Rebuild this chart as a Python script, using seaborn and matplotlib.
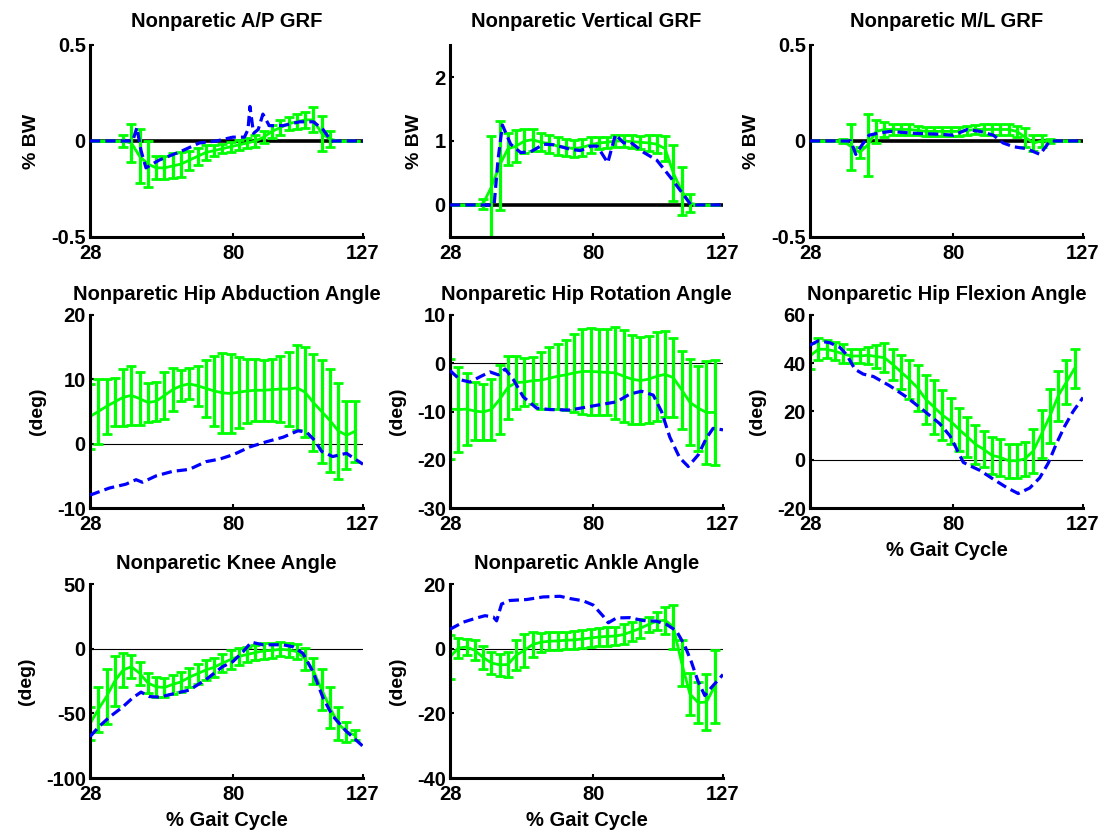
import matplotlib
matplotlib.use('Agg')
import matplotlib.pyplot as plt
import seaborn as sns

# green error bars sit every 3 % of the gait cycle
gait_x = list(range(28, 125, 3))

# ---- Nonparetic A/P GRF
ap_mean = [0, 0, 0, 0, 0.0, -0.01, -0.08, -0.12, -0.14, -0.14, -0.13, -0.12, -0.10, -0.08, -0.06, -0.05,
           -0.04, -0.03, -0.02, -0.01, 0.0, 0.02, 0.05, 0.07, 0.09, 0.10, 0.11, 0.11, 0.04, 0.01, 0, 0, 0]
ap_err = [0, 0, 0, 0, 0.03, 0.10, 0.14, 0.12, 0.06, 0.06, 0.065, 0.065, 0.05, 0.045, 0.04, 0.03,
          0.025, 0.025, 0.025, 0.025, 0.03, 0.03, 0.035, 0.04, 0.035, 0.04, 0.04, 0.065, 0.09, 0.04, 0, 0, 0]
ap_blue_x = [28, 43.5, 45, 46.5, 48.3, 53, 61.6, 67.7, 73.8, 79.8, 84, 85.3, 86, 87.3, 89, 90.7, 93, 98,
             104, 109, 112.5, 115.5, 127]
ap_blue_y = [0, 0, 0.07, -0.05, -0.14, -0.10, -0.05, -0.01, 0.0, 0.02, 0.02, 0.06, 0.18, 0.04, 0.06, 0.14,
             0.08, 0.08, 0.10, 0.10, 0.06, 0.0, 0]

# ---- Nonparetic Vertical GRF
vert_mean = [0, 0, 0, 0, 0.02, 0.28, 0.62, 0.88, 0.92, 1.0, 1.02, 0.98, 0.96, 0.92, 0.90, 0.88, 0.90,
             0.94, 0.97, 0.98, 1.0, 1.0, 0.99, 0.98, 0.97, 0.95, 0.88, 0.50, 0.22, 0.03, 0, 0, 0]
vert_err = [0, 0, 0, 0, 0.08, 0.80, 0.70, 0.25, 0.25, 0.18, 0.17, 0.14, 0.14, 0.14, 0.13, 0.13, 0.13,
            0.12, 0.10, 0.09, 0.10, 0.09, 0.10, 0.10, 0.12, 0.14, 0.20, 0.44, 0.38, 0.14, 0, 0, 0]
vert_blue_x = [28, 44, 45.4, 47, 50, 53.6, 57.2, 62, 65.7, 71.7, 75.3, 79, 81.4, 85.2, 88, 91, 93.5,
               98.3, 103, 108, 112, 115.4, 127]
vert_blue_y = [0, 0, 0.7, 1.25, 0.95, 0.82, 0.83, 0.95, 0.94, 0.87, 0.85, 0.92, 0.92, 0.66, 1.10, 0.97,
               0.98, 0.82, 0.70, 0.43, 0.20, 0.0, 0]

# ---- Nonparetic M/L GRF
ml_mean = [0, 0, 0, 0, 0.0, -0.03, -0.06, -0.02, 0.05, 0.06, 0.06, 0.06, 0.06, 0.055, 0.05, 0.05, 0.05,
           0.05, 0.05, 0.055, 0.06, 0.06, 0.06, 0.06, 0.06, 0.05, 0.02, -0.01, 0.0, 0.0, 0, 0, 0]
ml_err = [0, 0, 0, 0, 0.01, 0.12, 0.03, 0.16, 0.06, 0.04, 0.03, 0.03, 0.03, 0.025, 0.025, 0.025, 0.025,
          0.025, 0.025, 0.025, 0.025, 0.03, 0.03, 0.03, 0.03, 0.03, 0.05, 0.04, 0.03, 0.01, 0, 0, 0]
ml_blue_x = [28, 42.8, 44.6, 46.4, 49.4, 52.4, 57.2, 65.7, 75.3, 80, 85, 89.7, 94.5, 98, 101.8, 106.6,
             111.4, 115, 127]
ml_blue_y = [0, 0, -0.07, -0.03, 0.03, 0.04, 0.05, 0.04, 0.035, 0.03, 0.06, 0.05, 0.03, -0.01, -0.03,
             -0.04, -0.07, 0.0, 0]

# ---- Nonparetic Hip Abduction Angle
abd_mean = [4.2, 5.0, 5.8, 6.5, 7.2, 7.5, 7.0, 6.4, 6.6, 7.5, 8.4, 9.0, 9.3, 9.0, 8.6, 8.2, 7.9, 7.8,
            8.0, 8.2, 8.3, 8.3, 8.4, 8.5, 8.5, 8.7, 8.0, 6.4, 5.0, 3.6, 2.0, 1.3, 1.9]
abd_err = [5.1, 5.0, 4.3, 3.7, 4.4, 4.6, 4.1, 3.0, 3.0, 3.6, 3.3, 2.4, 2.4, 3.1, 4.4, 5.5, 6.2, 6.1,
           5.5, 5.0, 4.8, 4.7, 4.8, 5.1, 5.7, 6.6, 7.0, 7.5, 8.0, 8.0, 7.5, 5.3, 4.8]
abd_blue_x = [28, 35, 41, 44.7, 47, 52, 58, 64, 70, 75, 80, 86, 92, 98, 103.4, 106.5, 109.5, 112, 116,
              121, 127]
abd_blue_y = [-8.0, -6.9, -6.3, -5.6, -6.0, -5.0, -4.3, -4.0, -2.8, -2.4, -1.7, -0.5, 0.3, 1.0, 2.0,
              1.8, 0.5, -1.2, -2.0, -1.5, -3.2]

# ---- Nonparetic Hip Rotation Angle
rot_mean = [-9.5, -9.6, -9.5, -9.9, -10.1, -9.6, -7.5, -5.0, -4.0, -3.9, -3.6, -3.5, -3.1, -2.7, -2.4,
            -2.0, -1.7, -1.7, -1.8, -1.9, -2.0, -2.7, -3.3, -3.6, -3.3, -2.7, -2.3, -3.0, -5.5, -8.1,
            -9.3, -10.2, -10.2]
rot_err = [10.3, 8.8, 7.5, 6.1, 5.9, 6.4, 7.2, 6.5, 5.4, 5.0, 4.9, 5.9, 6.4, 6.7, 7.3, 8.1, 8.9, 9.1,
           9.0, 8.9, 9.5, 9.5, 9.2, 9.0, 9.0, 9.2, 8.9, 8.2, 8.1, 8.9, 8.8, 10.6, 10.9]
rot_blue_x = [28, 31.6, 35.2, 38.9, 42.5, 45.5, 48, 51, 54.6, 59.4, 64.2, 71.5, 76.3, 82.3, 88.4, 93.2,
              97.4, 101.7, 104.7, 107.7, 111.3, 114.4, 118, 121, 123.4, 127]
rot_blue_y = [-1.5, -3.4, -3.9, -2.8, -1.8, -2.4, -1.2, -3.4, -7.0, -9.3, -9.6, -9.7, -9.2, -8.6, -8.0,
              -6.4, -5.8, -6.6, -10.0, -15.3, -19.6, -21.4, -19.0, -15.5, -13.5, -13.8]

# ---- Nonparetic Hip Flexion Angle
flex_mean = [43.0, 45.8, 45.8, 45.0, 43.9, 43.0, 43.0, 43.3, 42.8, 42.3, 39.5, 36.4, 33.3, 29.8, 25.0,
             21.8, 18.5, 16.0, 12.6, 9.6, 6.4, 4.3, 1.8, 1.0, -0.4, -0.4, 0.4, 3.7, 10.8, 18.1, 26.5,
             32.2, 38.0]
flex_err = [5.2, 4.5, 3.8, 3.8, 4.0, 3.1, 3.1, 3.5, 4.6, 5.9, 6.6, 7.0, 8.0, 9.5, 10.0, 11.1, 10.5, 9.5,
            8.8, 8.3, 8.2, 7.5, 7.8, 7.7, 7.0, 7.0, 7.1, 9.0, 9.9, 11.3, 10.3, 9.0, 8.1]
flex_blue_x = [28, 31, 35.2, 38.9, 41.3, 44.3, 47.3, 51, 57, 63, 69, 75, 78.7, 81, 83.6, 86, 89.6, 94.4,
               99.3, 103.5, 107.7, 111.3, 114.4, 117.4, 120.4, 123.4, 127]
flex_blue_y = [47.5, 49.3, 48.5, 46.5, 43.5, 37.5, 35.5, 34.5, 30.6, 26.0, 20.6, 15.0, 10.0, 4.9, -1.1,
               -2.5, -4.4, -8.0, -11.5, -14.0, -11.7, -7.5, -1.4, 6.8, 14.0, 20.0, 25.8]

# ---- Nonparetic Knee Angle
knee_mean = [-58, -47, -37, -25, -16.5, -14, -19, -26.5, -29.5, -30, -27.6, -25.7, -22.1, -19.3, -16.5,
             -14.4, -11.2, -8.4, -6.0, -4.5, -3.0, -1.7, -1.3, -0.5, -1.0, -2.2, -8.0, -17, -31.5,
             -45.6, -57.8, -64.3, -66.8]
knee_err = [13, 17.7, 21, 19, 13, 9, 9, 8, 7.7, 7.1, 7.1, 7.7, 7.5, 7.7, 8.0, 7.5, 6.8, 7.0, 6.4, 6.1,
            6.0, 6.0, 5.6, 5.5, 5.4, 5.5, 8.4, 10, 16, 16, 12.8, 7.7, 3.9]
knee_blue_x = [28, 31.4, 35, 39.9, 43.5, 46.5, 49.5, 53.2, 58, 64, 70, 76, 79.8, 83.4, 86.5, 90.7, 98,
               101.6, 105.2, 108.9, 112.5, 116, 121, 127]
knee_blue_y = [-68, -60, -53, -45, -38, -33.6, -37, -37.5, -35, -32, -24, -14, -10, -2.6, 5, 3, 3, 1.5,
               -3.6, -18, -38, -52, -64, -75.5]

# ---- Nonparetic Ankle Angle
ank_mean = [-2.6, 0.2, 0.5, -0.5, -2.7, -4.4, -5.0, -4.9, -2.0, -0.5, 1.3, 2.0, 2.3, 2.4, 2.6, 2.7, 3.0,
            3.3, 3.6, 3.8, 3.9, 4.4, 5.3, 6.3, 7.5, 8.5, 8.8, 6.7, -4.4, -14.0, -16.7, -16.5, -11.6]
ank_err = [6.7, 3.2, 2.5, 3.1, 3.5, 3.4, 3.5, 3.9, 4.6, 5.1, 3.9, 3.0, 2.8, 2.7, 2.6, 2.7, 2.7, 2.8,
           2.9, 2.9, 2.9, 3.1, 2.9, 2.9, 2.4, 2.8, 4.2, 6.7, 7.0, 6.6, 6.4, 8.6, 11.3]
ank_blue_x = [28, 32.8, 37.7, 40.7, 43.7, 44.9, 46.7, 49.7, 55.8, 61.8, 67.9, 71.5, 76.3, 79.9, 83.6,
              85.4, 88.4, 93.2, 98, 102.9, 106.5, 110.1, 113.1, 115.5, 117.9, 120.4, 122.8, 127]
ank_blue_y = [6, 8.2, 9.5, 10.2, 9.8, 8.6, 13.8, 14.9, 15.2, 16.0, 16.2, 15.5, 14.8, 13.5, 10, 8, 9.5,
              9.6, 8.7, 8.5, 7.5, 5.5, 1, -4, -10, -14.5, -12, -8]

sns.set_style('ticks')
plt.rcParams['font.family'] = ['Liberation Sans', 'DejaVu Sans']
plt.rcParams['font.weight'] = 'bold'
plt.rcParams['axes.unicode_minus'] = False
# plain black text and axes, like the original MATLAB figure
for key in ['text.color', 'axes.labelcolor', 'xtick.color', 'ytick.color', 'axes.edgecolor']:
    plt.rcParams[key] = 'black'

GREEN = '#00ff00'
BLUE = '#0000ff'
FS = 14.5


# one panel: mean +/- sd in green, single subject dashed blue, zero line in black
def draw_panel(ax, title, ylabel, ylim, yticks, yticklabels, mean, err, bx, by, grf, xlabel=False, pad=11):
    ax.axhline(0, color='black', lw=2.6 if grf else 0.8, zorder=1)
    ax.errorbar(gait_x, mean, yerr=err, fmt='none', ecolor=GREEN, elinewidth=2.3,
                capsize=3.5, capthick=2.0, zorder=2)
    sns.lineplot(x=gait_x, y=mean, color=GREEN, lw=2.0, ax=ax, zorder=2)
    sns.lineplot(x=bx, y=by, color=BLUE, lw=2.3, linestyle='--', ax=ax, zorder=3)
    ax.lines[-1].set_dashes([3.2, 1.6])
    ax.set_xlim(28, 127)
    ax.set_ylim(*ylim)
    ax.set_xticks([28, 80, 127])
    ax.set_xticklabels(['28', '80', '127'])
    ax.set_yticks(yticks)
    ax.set_yticklabels(yticklabels)
    ax.set_title(title, fontsize=FS, fontweight='bold', pad=pad)
    ax.set_ylabel(ylabel, fontsize=FS - 0.5, fontweight='bold', labelpad=8)
    if xlabel:
        ax.set_xlabel('% Gait Cycle', fontsize=FS, fontweight='bold', labelpad=5)
    else:
        ax.set_xlabel('')
    ax.tick_params(direction='in', length=3, width=1.5, labelsize=FS)
    ax.tick_params(axis='x', pad=5)
    ax.tick_params(axis='y', pad=3)
    for lab in ax.get_xticklabels() + ax.get_yticklabels():
        lab.set_fontweight('bold')
    sns.despine(ax=ax)
    ax.spines['left'].set_linewidth(2.2)
    ax.spines['bottom'].set_linewidth(2.2)


fig = plt.figure(figsize=(11.03, 8.36), dpi=100)
W, H = 1103.0, 836.0
lefts = [90, 450, 810]
rows = [(45, 237), (315, 508), (584, 778)]


def make_ax(col, row):
    top, bot = rows[row]
    return fig.add_axes([lefts[col] / W, 1 - bot / H, 273 / W, (bot - top) / H])


draw_panel(make_ax(0, 0), 'Nonparetic A/P GRF', '% BW', (-0.5, 0.5), [-0.5, 0, 0.5], ['-0.5', '0', '0.5'],
           ap_mean, ap_err, ap_blue_x, ap_blue_y, True, pad=13)
draw_panel(make_ax(1, 0), 'Nonparetic Vertical GRF', '% BW', (-0.5, 2.5), [0, 1, 2], ['0', '1', '2'],
           vert_mean, vert_err, vert_blue_x, vert_blue_y, True, pad=13)
draw_panel(make_ax(2, 0), 'Nonparetic M/L GRF', '% BW', (-0.5, 0.5), [-0.5, 0, 0.5], ['-0.5', '0', '0.5'],
           ml_mean, ml_err, ml_blue_x, ml_blue_y, True, pad=13)
draw_panel(make_ax(0, 1), 'Nonparetic Hip Abduction Angle', '(deg)', (-10, 20), [-10, 0, 10, 20],
           ['-10', '0', '10', '20'], abd_mean, abd_err, abd_blue_x, abd_blue_y, False)
draw_panel(make_ax(1, 1), 'Nonparetic Hip Rotation Angle', '(deg)', (-30, 10), [-30, -20, -10, 0, 10],
           ['-30', '-20', '-10', '0', '10'], rot_mean, rot_err, rot_blue_x, rot_blue_y, False)
draw_panel(make_ax(2, 1), 'Nonparetic Hip Flexion Angle', '(deg)', (-20, 60), [-20, 0, 20, 40, 60],
           ['-20', '0', '20', '40', '60'], flex_mean, flex_err, flex_blue_x, flex_blue_y, False, xlabel=True)
draw_panel(make_ax(0, 2), 'Nonparetic Knee Angle', '(deg)', (-100, 50), [-100, -50, 0, 50],
           ['-100', '-50', '0', '50'], knee_mean, knee_err, knee_blue_x, knee_blue_y, False, xlabel=True)
draw_panel(make_ax(1, 2), 'Nonparetic Ankle Angle', '(deg)', (-40, 20), [-40, -20, 0, 20],
           ['-40', '-20', '0', '20'], ank_mean, ank_err, ank_blue_x, ank_blue_y, False, xlabel=True)

fig.savefig('out.png', dpi=100)
